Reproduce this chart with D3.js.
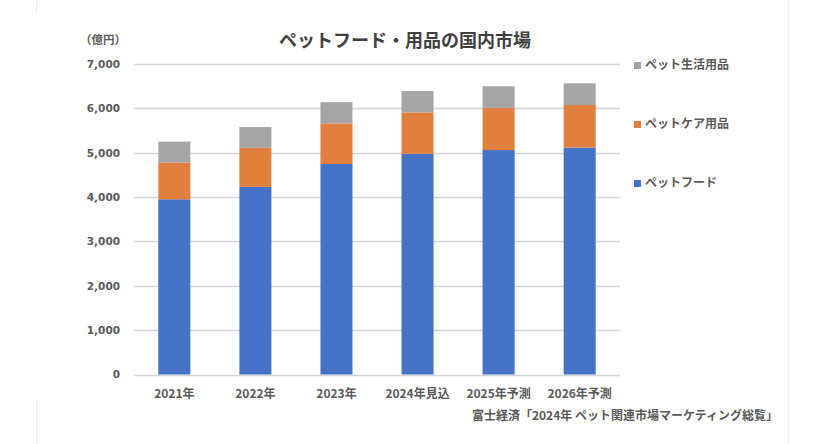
<!DOCTYPE html>
<html><head><meta charset="utf-8">
<script src="https://cdn.jsdelivr.net/npm/d3@7"></script>
<style>
html,body{margin:0;padding:0;background:#fff;}
text{font-family:"Noto Sans CJK JP","Noto Sans",sans-serif;}
</style></head>
<body><svg id="c" width="828" height="444"></svg>
<script>
const categories = ["2021年","2022年","2023年","2024年見込","2025年予測","2026年予測"];
const seriesNames = ["ペットフード","ペットケア用品","ペット生活用品"];
const petFood = [3950, 4230, 4745, 4975, 5060, 5115];
const petCare = [830, 880, 915, 935, 950, 960];
const petLiving = [470, 470, 480, 480, 490, 490];
const yTicks = [0,1000,2000,3000,4000,5000,6000,7000];
const colors = ["#4472C4","#E07F3E","#A5A5A5"];
const title = "ペットフード・用品の国内市場";
const unitLabel = "（億円）";
const sourceText = "富士経済「2024年 ペット関連市場マーケティング総覧」";

const svg = d3.select("#c");
const m = {left:134, right:620, top:64, bottom:374.5};

// faint frame lines
svg.append("line").attr("x1",788.5).attr("x2",788.5).attr("y1",0).attr("y2",444).attr("stroke","#f0f0f0").attr("stroke-width",1.5);
svg.append("line").attr("x1",36.5).attr("x2",36.5).attr("y1",0).attr("y2",14).attr("stroke","#eeeeee");
svg.append("line").attr("x1",36.5).attr("x2",36.5).attr("y1",400).attr("y2",444).attr("stroke","#eeeeee");

const x = d3.scaleBand().domain(categories).range([m.left, m.right]).paddingInner(0.605).paddingOuter(0.3);
const y = d3.scaleLinear().domain([0,7000]).range([m.bottom, m.top]);

// gridlines
svg.append("g").selectAll("line").data(yTicks).join("line")
  .attr("x1", m.left).attr("x2", m.right)
  .attr("y1", d=>Math.round(y(d))+0.5).attr("y2", d=>Math.round(y(d))+0.5)
  .attr("stroke","#d4d4d4").attr("stroke-width",1.3);

// y axis labels
const yAxis = d3.axisLeft(y).tickValues(yTicks).tickFormat(d3.format(",")).tickSize(0).tickPadding(0);
const ya = svg.append("g").attr("transform","translate(120,0)").call(yAxis);
ya.select(".domain").remove();
ya.selectAll("text").style("font-size","10.5px").style("font-weight","700").attr("fill","#595959").style("font-family","'DejaVu Sans',sans-serif");

// stacked data
const rows = categories.map((c,i)=>({cat:c, [seriesNames[0]]:petFood[i], [seriesNames[1]]:petCare[i], [seriesNames[2]]:petLiving[i]}));
const stack = d3.stack().keys(seriesNames)(rows);
svg.append("g").selectAll("g").data(stack).join("g").attr("fill",(d,i)=>colors[i])
  .selectAll("rect").data(d=>d).join("rect")
  .attr("x", d=>x(d.data.cat)).attr("width", x.bandwidth())
  .attr("y", d=>y(d[1])).attr("height", d=>y(d[0])-y(d[1]));

// x axis labels
const xAxis = d3.axisBottom(x).tickSize(0).tickPadding(0);
const xa = svg.append("g").attr("transform","translate(0,398)").call(xAxis);
xa.select(".domain").remove();
xa.selectAll("text").attr("dy",0).style("font-size","12px").style("font-weight","700").attr("fill","#595959");

// title
svg.append("text").attr("x",405).attr("y",47).attr("text-anchor","middle")
  .attr("font-size",18).attr("font-weight",700).attr("fill","#404040").text(title);

// unit
svg.append("text").attr("x",126).attr("y",44).attr("text-anchor","end")
  .attr("font-size",11.5).attr("font-weight",700).attr("fill","#595959").text(unitLabel);

// legend (reverse order, top = 生活用品)
const legY = [183, 124, 65];
const lg = svg.append("g").selectAll("g").data(seriesNames).join("g")
  .attr("transform",(d,i)=>`translate(634,${legY[i]})`);
lg.append("rect").attr("x",0).attr("y",-3).attr("width",7).attr("height",7).attr("fill",(d,i)=>colors[i]);
lg.append("text").attr("x",11).attr("y",4).attr("font-size",12).attr("font-weight",700).attr("fill","#595959").text(d=>d);

// source
svg.append("text").attr("x",778).attr("y",420).attr("text-anchor","end")
  .attr("font-size",12).attr("font-weight",700).attr("fill","#595959").text(sourceText);
</script></body></html>
